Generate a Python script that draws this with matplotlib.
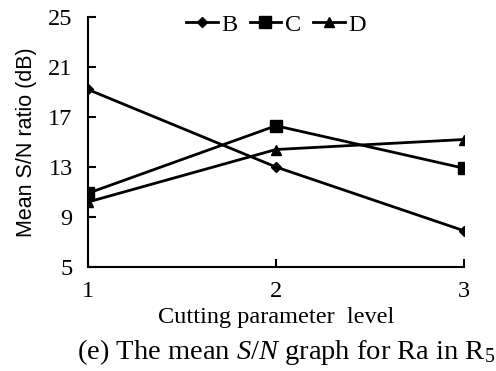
import matplotlib
matplotlib.use("Agg")
import matplotlib.pyplot as plt

plt.rcParams["mathtext.fontset"] = "custom"
plt.rcParams["mathtext.rm"] = "Liberation Serif"
plt.rcParams["mathtext.it"] = "Liberation Serif:italic"

levels = [1, 2, 3]
B = [19.2, 13.0, 7.9]
C = [10.9, 16.3, 12.9]
D = [10.2, 14.4, 15.2]
yticks = [5, 9, 13, 17, 21, 25]

fig = plt.figure(figsize=(4.96, 3.71), dpi=100)
ax = fig.add_axes([0.1774, 0.2803, 0.7581, 0.6739])

ax.plot(levels, B, color="black", lw=2, marker="D", ms=5.5, label="B")
ax.plot(levels, C, color="black", lw=2, marker="s", ms=8, label="C")
ax.plot(levels, D, color="black", lw=2, marker="^", ms=7.5, label="D")

ax.set_xlim(1, 3)
ax.set_ylim(5, 25)
ax.set_xticks(levels)
ax.set_yticks(yticks)
for s in ["top", "right"]:
    ax.spines[s].set_visible(False)
for s in ["left", "bottom"]:
    ax.spines[s].set_linewidth(1.5)
ax.tick_params(direction="in", length=6, width=1.5, labelsize=17.5)
ax.tick_params(axis="y", pad=11)
ax.tick_params(axis="x", pad=10)
for lab in ax.get_xticklabels() + ax.get_yticklabels():
    lab.set_fontfamily("Liberation Serif")

ax.set_ylabel("Mean S/N ratio (dB)", fontsize=15.5, family="Liberation Sans", labelpad=8)
ax.set_xlabel("Cutting parameter  level", fontsize=17.5, family="Liberation Serif", labelpad=4)

leg = ax.legend(loc="upper center", bbox_to_anchor=(0.5, 1.10), ncol=3, frameon=False,
                handlelength=1.3, handletextpad=0.15, columnspacing=0.5,
                prop={"family": "Liberation Serif", "size": 17.5})

fig.text(0.998, 0.012, r"(e) The mean $\mathit{S/N}$ graph for Ra in R$_5$",
         ha="right", va="bottom", fontsize=20.5, family="Liberation Serif")
fig.savefig("out.png", dpi=100)
